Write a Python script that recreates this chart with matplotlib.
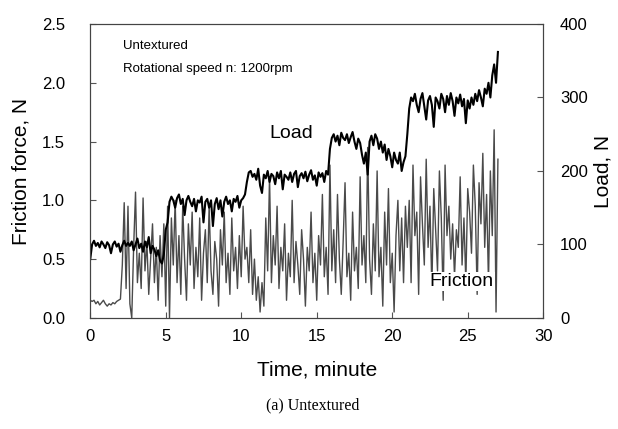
import numpy as np
import matplotlib
matplotlib.use("Agg")
import matplotlib.pyplot as plt

plt.rcParams['font.family'] = ['Liberation Sans', 'DejaVu Sans']

# load (N), one value every 0.125 min
load = [
    80, 100, 105, 98, 102, 96, 104, 100, 95, 103, 99, 88, 100, 104, 97, 101, 90, 99, 105, 98, 102,
    98, 104, 92, 100, 108, 95, 101, 90, 104, 96, 110, 88, 98, 93, 84, 92, 78, 74, 86, 120, 130,
    158, 165, 160, 150, 163, 168, 155, 162, 140, 160, 166, 158, 152, 162, 145, 160, 157, 165, 130, 158,
    162, 150, 160, 125, 155, 163, 148, 160, 138, 158, 165, 155, 160, 145, 162, 158, 166, 150, 160, 163, 168,
    185, 198, 200, 192, 196, 188, 203, 180, 170, 195, 190, 200, 185, 196, 193, 182, 198, 190, 200, 175, 195, 192,
    188, 198, 185, 196, 200, 178, 193, 197, 190, 199, 186, 195, 201, 188, 194, 180, 198, 192, 197, 185, 200, 195,
    230, 245, 250, 240, 248, 235, 252, 245, 242, 250, 238, 246, 253, 240, 230, 244, 238, 222, 210, 225, 195,
    240, 248, 235, 250, 244, 230, 240, 225, 236, 215, 230, 220, 205, 225, 215, 210, 225, 200, 212, 220,
    250, 285, 300, 295, 305, 290, 280, 298, 306, 288, 270, 296, 302, 290, 260, 300, 295, 285, 305, 298, 280, 302,
    290, 306, 295, 275, 300, 292, 304, 288, 298, 265, 296, 285, 300, 290, 305, 295, 310, 300, 288, 312, 305, 320,
    300, 330, 345, 320, 362,
]

# friction force (N), left axis, same sampling
friction = [
    0.15, 0.14, 0.15, 0.12, 0.14, 0.11, 0.13, 0.15, 0.12, 0.10, 0.12, 0.11, 0.13, 0.12, 0.14, 0.15, 0.16, 0.45, 0.98, 0.25, 0.95,
    0.12, 0.0, 0.6, 1.07, 0.3, 0.55, 0.25, 1.02, 0.4, 0.65, 0.2, 0.5, 0.8, 0.3, 0.6, 0.15, 0.7, 0.35, 0.8, 0.1, 0.95,
    0.0, 0.85, 0.45, 1.0, 0.3, 0.7, 0.2, 0.95, 0.5, 0.15, 0.8, 0.45, 0.9, 0.25, 0.6, 0.35, 0.85, 0.15, 0.55, 0.75, 0.3,
    0.95, 0.4, 0.2, 0.65, 0.5, 0.1, 0.75, 0.45, 0.9, 0.3, 0.55, 0.2, 0.85, 0.4, 0.6, 0.25, 0.7, 0.35, 0.95, 0.5,
    0.6, 0.3, 0.75, 0.2, 0.5, 0.15, 0.35, 0.05, 0.3, 0.1, 0.85, 0.4, 1.2, 0.3, 0.7, 0.45, 0.95, 0.25, 0.6, 0.4, 0.8, 0.15,
    0.55, 0.35, 1.0, 0.3, 0.65, 0.45, 0.2, 0.75, 0.5, 0.1, 0.6, 0.4, 0.9, 0.3, 0.55, 0.15, 0.7, 0.45, 1.05, 0.35, 0.6, 0.2,
    1.3, 0.4, 0.75, 0.3, 1.05, 0.5, 0.2, 0.65, 1.15, 0.35, 0.55, 0.15, 0.9, 0.4, 0.6, 0.25, 1.2, 0.45, 0.7, 0.3, 1.45,
    0.5, 0.2, 0.8, 0.4, 1.25, 0.35, 0.6, 0.1, 0.9, 0.45, 1.1, 0.3, 0.55, 0.05, 0.7, 1.0, 0.4, 0.85, 0.3, 0.95,
    0.6, 1.0, 0.3, 1.3, 0.7, 0.9, 0.2, 1.2, 0.8, 0.45, 1.35, 0.6, 0.95, 0.25, 1.1, 0.75, 0.4, 1.25, 0.85, 0.15, 1.3, 0.7,
    0.95, 0.5, 0.8, 0.35, 0.75, 0.6, 1.2, 0.45, 0.85, 0.3, 1.1, 0.9, 0.55, 1.3, 0.95, 0.2, 1.15, 0.8, 1.4, 0.6, 1.05, 0.3,
    1.25, 0.7, 1.6, 0.05, 1.35,
]

time = np.linspace(0, 27, len(load))
time_f = np.linspace(0, 27, len(friction))

fig = plt.figure(figsize=(6.18, 4.29), dpi=100)
ax = fig.add_axes([0.146, 0.259, 0.733, 0.685])
ax2 = ax.twinx()

ax.plot(time_f, friction, color='#4a4a4a', lw=1.0, zorder=2)
ax2.plot(time, load, color='black', lw=1.5, zorder=2)

ax.set_xlim(0, 30)
ax.set_ylim(0, 2.5)
ax2.set_ylim(0, 400)
ax.set_xticks(range(0, 31, 5))
ax.set_yticks([0, 0.5, 1.0, 1.5, 2.0, 2.5])
ax.set_yticklabels(['0.0', '0.5', '1.0', '1.5', '2.0', '2.5'])
ax2.set_yticks([0, 100, 200, 300, 400])

for a in (ax, ax2):
    a.tick_params(direction='in', labelsize=12, length=4, color='#555555')
    for s in a.spines.values():
        s.set_color('#444444')
        s.set_linewidth(0.8)
ax.tick_params(axis='x', pad=8)
ax.tick_params(axis='y', pad=18)
ax2.tick_params(axis='y', pad=12)

ax.set_xlabel('Time, minute', fontsize=15, labelpad=12)
ax.set_ylabel('Friction force, N', fontsize=15, labelpad=8)
ax2.set_ylabel('Load, N', fontsize=15, labelpad=4)

ax2.text(2.2, 2.31 * 160, 'Untextured', fontsize=9.5, va='center')
ax2.text(2.2, 2.12 * 160, 'Rotational speed n: 1200rpm', fontsize=9.5, va='center')
ax2.text(13.3, 1.57 * 160, 'Load', fontsize=14, ha='center', va='center')
ax2.text(24.6, 0.31 * 160, 'Friction', fontsize=14, ha='center', va='center',
         bbox=dict(facecolor='white', edgecolor='none', pad=1), zorder=5)

fig.text(0.506, 0.056, '(a) Untextured', fontsize=11.5, ha='center', va='center',
         family='Liberation Serif')

fig.savefig('out.png', dpi=100)
